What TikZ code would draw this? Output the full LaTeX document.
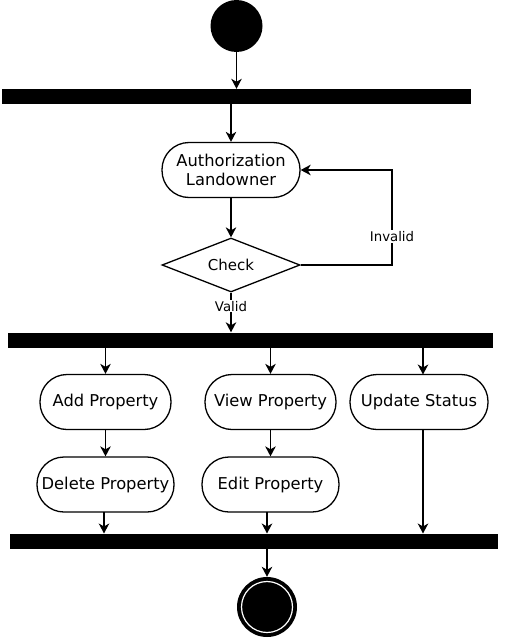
\documentclass[tikz,border=0pt]{standalone}
\usepackage{fontspec}
\setmainfont{DejaVu Sans}
\usetikzlibrary{shapes.geometric,arrows.meta}
\begin{document}
\begin{tikzpicture}[x=1pt,y=-1pt,
  act/.style={draw,line width=1.3pt,rounded corners=27pt,minimum height=55pt,inner sep=0pt,font=\fontsize{16.3}{18.5}\selectfont,align=center},
  bar/.style={fill=black,draw=none,inner sep=0pt,minimum height=15pt},
  arr/.style={line width=1.3pt,-{Stealth[length=10pt,width=10.5pt,inset=3pt]}},
  lbl/.style={fill=white,inner sep=1pt,font=\fontsize{13.3}{15}\selectfont}]
\useasboundingbox (0,0) rectangle (507,642);
\node[circle,fill=black,minimum size=52pt,inner sep=0pt] (start) at (236.5,26) {};
\node[bar,minimum width=469pt] (bar1) at (236.5,96.5) {};
\node[act,minimum width=138pt] (auth) at (231,170) {Authorization\\Landowner};
\node[diamond,draw,line width=1.3pt,aspect=2.55,minimum width=138pt,minimum height=54pt,inner sep=0pt,font=\fontsize{15}{18}\selectfont] (check) at (231,265) {Check};
\node[bar,minimum width=485pt] (bar2) at (250,340) {};
\node[act,minimum width=131pt] (add) at (105.5,402) {Add Property};
\node[act,minimum width=131pt] (view) at (270.5,402) {View Property};
\node[act,minimum width=138pt] (upd) at (419,402) {Update Status};
\node[act,minimum width=137pt] (del) at (105.5,484.5) {Delete Property};
\node[act,minimum width=137pt] (edit) at (270.5,484.5) {Edit Property};
\node[bar,minimum width=488pt] (bar3) at (253.5,541) {};
\node[circle,fill=black,minimum size=60pt,inner sep=0pt] (endo) at (267,607) {};
\node[circle,draw=white,line width=1.2pt,minimum size=51pt,inner sep=0pt] (endi) at (267,607) {};
\coordinate (loopc) at (392,265);
\draw[arr] (start) -- (start |- bar1.north);
\draw[arr] (bar1.south -| auth) -- (auth);
\draw[arr] (auth) -- (check);
\draw[arr] (check.east) -- (loopc) -- (loopc |- auth.east) node[lbl,pos=0.30] {Invalid} -- (auth.east);
\draw[arr] (check.south) -- node[lbl,pos=0.34] {Valid} (check.south |- bar2.north);
\draw[arr] (bar2.south -| add) -- (add);
\draw[arr] (bar2.south -| view) -- (view);
\draw[arr] (bar2.south -| 423,0) -- (423,374.5);
\draw[arr] (add) -- (del);
\draw[arr] (view) -- (edit);
\draw[arr] (104,512) -- (104,533.5);
\draw[arr] (267,512) -- (267,533.5);
\draw[arr] (423,429.5) -- (423,533.5);
\draw[arr] (bar3.south -| endo) -- (endo);
\end{tikzpicture}
\end{document}
